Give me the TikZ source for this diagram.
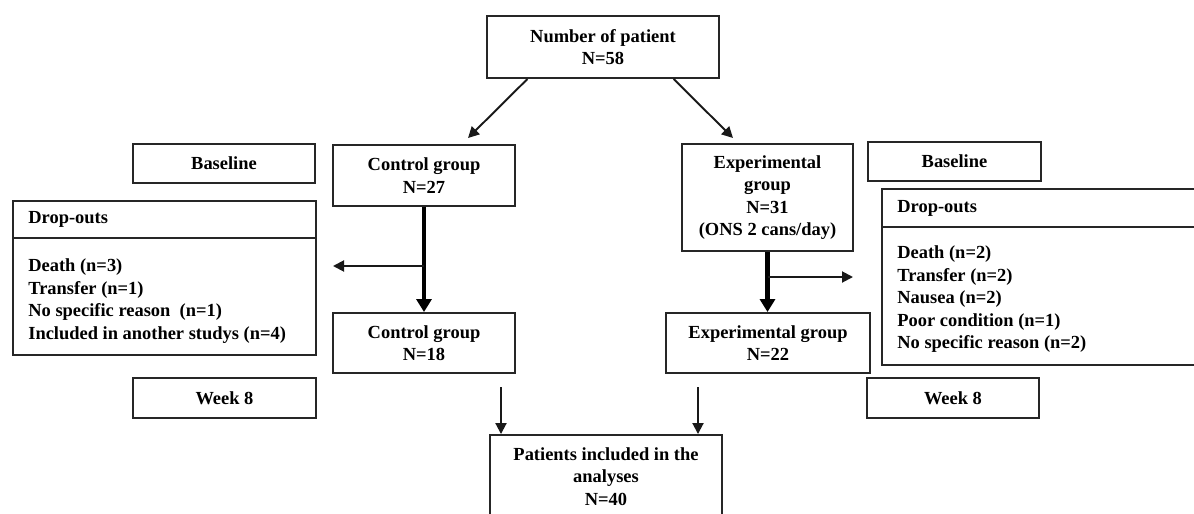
\documentclass[tikz,border=0pt]{standalone}
\usepackage{fontspec}
\setmainfont{Liberation Serif}
\usetikzlibrary{arrows.meta,calc}

\begin{document}
\begin{tikzpicture}[x=0.02cm,y=-0.02cm]
\tikzstyle{every node}+=[inner sep=0pt,font=\fontsize{10.5}{12.8}\selectfont\bfseries]
\tikzstyle{box}=[draw=black!85,line width=1.1pt,rectangle,align=center]
\tikzstyle{thinarrow}=[draw=black!90,line width=1.1pt,-{Triangle[length=0.22cm,width=0.22cm]}]
\tikzstyle{thickarrow}=[draw=black,line width=2.3pt,-{Triangle[length=0.26cm,width=0.3cm]}]
\useasboundingbox (0,0) rectangle (1194,514);
\clip (0,0) rectangle (1194,514);
\node [box,minimum width=4.64cm,minimum height=1.24cm] (total) at (603,47) {Number of patient\\N=58};
\node [box,minimum width=3.64cm,minimum height=0.78cm] (baseL) at (224,163.5) {Baseline};
\node [box,minimum width=3.64cm,minimum height=1.22cm] (ctl27) at (424,175.5) {Control group\\N=27};
\node [box,minimum width=6.06cm,minimum height=3.08cm] (dropL) at (164.5,278) {};
\node [box,minimum width=3.64cm,minimum height=1.2cm] (ctl18) at (424,343) {Control group\\N=18};
\node [box,minimum width=3.66cm,minimum height=0.8cm] (weekL) at (224.5,398) {Week 8};
\node [box,minimum width=3.42cm,minimum height=2.14cm] (exp31) at (767.5,197.5) {Experimental\\group\\N=31\\(ONS 2 cans/day)};
\node [box,minimum width=3.46cm,minimum height=0.78cm] (baseR) at (954.5,161.5) {Baseline};
\node [box,minimum width=6.36cm,minimum height=3.52cm] (dropR) at (1041,277) {};
\node [box,minimum width=4.08cm,minimum height=1.2cm] (exp22) at (768,343) {Experimental group\\N=22};
\node [box,minimum width=3.44cm,minimum height=0.8cm] (weekR) at (953,398) {Week 8};
\node [box,minimum width=4.64cm,minimum height=1.66cm] (anal) at (606,476.5) {Patients included in the\\analyses\\N=40};
\draw [draw=black!85,line width=1.1pt] (dropL.west |- 0,238) -- (dropL.east |- 0,238);
\draw [draw=black!85,line width=1.1pt] (dropR.west |- 0,227) -- (dropR.east |- 0,227);
\node [anchor=west] (dropLhead) at (28,219.5) {Drop-outs};
\node [anchor=west,align=left] (dropLlist) at (28,301) {Death (n=3)\\Transfer (n=1)\\No specific reason\ \ (n=1)\\Included in another studys (n=4)};
\node [anchor=west] (dropRhead) at (897,208) {Drop-outs};
\node [anchor=west,align=left] (dropRlist) at (897,299.5) {Death (n=2)\\Transfer (n=2)\\Nausea (n=2)\\Poor condition (n=1)\\No specific reason (n=2)};
\coordinate (ctlTip) at (468,138);
\coordinate (expTip) at (733,138);
\coordinate (ctlOut) at (333,266);
\coordinate (expOut) at (853,277);
\coordinate (inL) at (501,387);
\coordinate (inR) at (698,387);
\draw [thinarrow] ($(total.south west)!0.177!(total.south east)$) -- (ctlTip);
\draw [thinarrow] ($(total.south west)!0.802!(total.south east)$) -- (expTip);
\draw [thickarrow] (ctl27.south) -- (ctl18.north);
\draw [thinarrow] (ctl27.south |- ctlOut) -- (ctlOut);
\draw [thickarrow] (exp31.south) -- (exp31.south |- exp22.north);
\draw [thinarrow] (exp31.south |- expOut) -- (expOut);
\draw [thinarrow] (inL) -- (inL |- anal.north);
\draw [thinarrow] (inR) -- (inR |- anal.north);
\end{tikzpicture}
\end{document}
